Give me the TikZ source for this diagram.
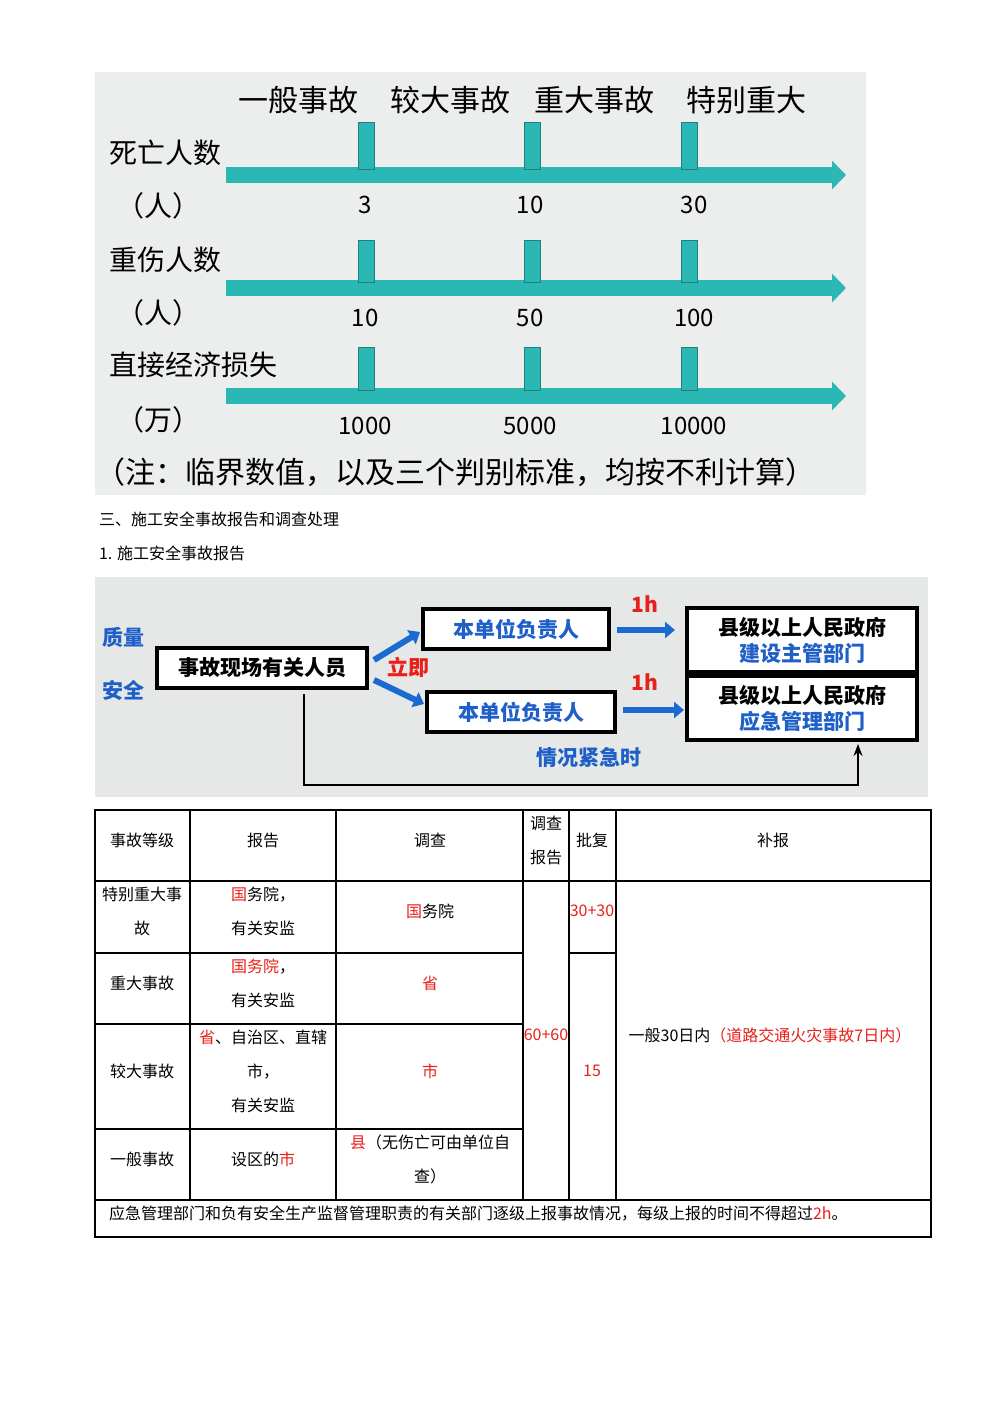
\documentclass[tikz,border=0pt]{standalone}
\usepackage{fontspec}
\setmainfont{Noto Sans CJK SC}
\usetikzlibrary{arrows.meta}
\definecolor{teal1}{HTML}{2BB8B4}
\definecolor{bg1}{HTML}{ECEEEE}
\definecolor{bg2}{HTML}{E6E8E8}
\definecolor{blu}{HTML}{1F5FC8}
\definecolor{arrb}{HTML}{1A6AD0}
\definecolor{rd}{HTML}{E8201A}
\begin{document}
\begin{tikzpicture}[x=0.5pt,y=-0.5pt,
 big/.style={font=\fontsize{15}{17}\selectfont},
 lab/.style={font=\fontsize{14}{17}\selectfont},
 num/.style={font=\fontsize{12}{14}\selectfont},
 tick/.style={fill=teal1,draw=teal1!70!black,line width=0.4pt},
 bar/.style={teal1,line width=8pt,-{Triangle[length=7pt,width=14pt]}},
 bx/.style={draw=black,line width=1.6pt,fill=white},
 bl/.style={text=blu,font=\fontsize{10.5}{13}\selectfont\bfseries},
 bk/.style={font=\fontsize{10.5}{13}\selectfont\bfseries},
 ba/.style={arrb,line width=3pt,-{Triangle[length=5pt,width=8pt]}},
 tt/.style={font=\fontsize{8}{17}\selectfont,align=center},
 R/.style={text=rd}]
\useasboundingbox (0,0) rectangle (1000,1414);
\fill[white] (0,0) rectangle (1000,1414);
% top panel
\fill[bg1] (95,72) rectangle (866,495);
\node[big] (h1) at (298,100) {一般事故};
\node[big] (h2) at (450,100) {较大事故};
\node[big] (h3) at (594,100) {重大事故};
\node[big] (h4) at (746,100) {特别重大};
\node[lab,anchor=west] (l1) at (102,153) {死亡人数};
\node[lab] (l1b) at (158,206) {（人）};
\node[lab,anchor=west] (l2) at (102,260) {重伤人数};
\node[lab] (l2b) at (158,313) {（人）};
\node[lab,anchor=west] (l3) at (102,365) {直接经济损失};
\node[lab] (l3b) at (158,420) {（万）};
\foreach \y/\t/\a/\b/\c [count=\i] in {175/122/3/10/30, 288/240/10/50/100, 396/347/1000/5000/10000}{
  \coordinate (s\i) at (226,\y); \coordinate (e\i) at (846,\y);
  \draw[bar] (s\i) -- (e\i);
  \foreach \x in {366,532,689}{\draw[tick] (\x-8,\t) rectangle (\x+8,\y-6);}
  \node[num] (na\i) at (365,\y+30) {\a};
  \node[num] (nb\i) at (530,\y+30) {\b};
  \node[num] (nc\i) at (694,\y+30) {\c};
}
\node[big] (note) at (455,472) {（注：临界数值，以及三个判别标准，均按不利计算）};
% section text
\node[tt,anchor=west] (t1) at (92,519) {三、施工安全事故报告和调查处理};
\node[tt,anchor=west] (t2) at (92,553) {1. 施工安全事故报告};
% second panel
\fill[bg2] (95,577) rectangle (928,797);
\node[bl] (q) at (123,637) {质量};
\node[bl] (a) at (123,690) {安全};
\node[bx,bk,minimum width=105pt,minimum height=20pt] (src) at (262,668) {事故现场有关人员};
\node[bx,bl,minimum width=93pt,minimum height=20pt] (u1) at (516,629) {本单位负责人};
\node[bx,bl,minimum width=94pt,minimum height=20pt] (u2) at (521,712) {本单位负责人};
\node[bx,bk,minimum width=115pt,minimum height=32pt,align=center] (g1) at (802,640) {县级以上人民政府\\\textcolor{blu}{建设主管部门}};
\node[bx,bk,minimum width=115pt,minimum height=32pt,align=center] (g2) at (802,708) {县级以上人民政府\\\textcolor{blu}{应急管理部门}};
\draw[ba] (374,660) -- (420,632);
\draw[ba] (374,680) -- (424,704);
\node[text=rd,font=\fontsize{10.5}{13}\selectfont\bfseries] (lj) at (408,667) {立即};
\draw[ba] (u1.east)++(6,1) -- (675,630);
\draw[ba] (u2.east)++(6,-2) -- (684,710);
\node[text=rd,font=\fontsize{10.5}{13}\selectfont\bfseries] (h1a) at (645,604) {1h};
\node[text=rd,font=\fontsize{10.5}{13}\selectfont\bfseries] (h1b) at (645,682) {1h};
\node[bl] (jj) at (589,757) {情况紧急时};
\coordinate (c1) at (304,694);
\coordinate (c2) at (858,744);
\draw[line width=0.8pt,-{Stealth[length=6pt]}] (c1) -- (304,785) -- (858,785) -- (c2);
% table
\draw[line width=1.2pt] (95,810) rectangle (931,1237);
\foreach \x in {190,336,523,569,616}{\draw[line width=1pt] (\x,810) -- (\x,1200);}
\draw[line width=1pt] (95,881) -- (931,881);
\draw[line width=1pt] (95,953) -- (523,953);
\draw[line width=1pt] (569,953) -- (616,953);
\draw[line width=1pt] (95,1024) -- (523,1024);
\draw[line width=1pt] (95,1129) -- (523,1129);
\draw[line width=1pt] (95,1200) -- (931,1200);
\node[tt] (c11) at (142,840) {事故等级};
\node[tt] (c12) at (263,840) {报告};
\node[tt] (c13) at (430,840) {调查};
\node[tt] (c14) at (546,840) {调查\\报告};
\node[tt] (c15) at (592,840) {批复};
\node[tt] (c16) at (773,840) {补报};
\node[tt] (r11) at (142,911) {特别重大事\\故};
\node[tt] (r12) at (263,911) {\textcolor{rd}{国}务院，\\有关安监};
\node[tt] (r13) at (430,911) {\textcolor{rd}{国}务院};
\node[tt] (r21) at (142,983) {重大事故};
\node[tt] (r22) at (263,983) {\textcolor{rd}{国务院}，\\有关安监};
\node[tt,R] (r23) at (430,983) {省};
\node[tt] (r31) at (142,1071) {较大事故};
\node[tt] (r32) at (263,1071) {\textcolor{rd}{省}、自治区、直辖\\市，\\有关安监};
\node[tt,R] (r33) at (430,1071) {市};
\node[tt] (r41) at (142,1159) {一般事故};
\node[tt] (r42) at (263,1159) {设区的\textcolor{rd}{市}};
\node[tt] (r43) at (430,1159) {\textcolor{rd}{县}（无伤亡可由单位自\\查）};
\node[tt,R] (cr) at (546,1035) {60+60};
\node[tt,R] (pf1) at (592,911) {30+30};
\node[tt,R] (pf2) at (592,1071) {15};
\node[tt] (bb) at (770,1035) {一般30日内\textcolor{rd}{（道路交通火灾事故7日内）}};
\node[tt,anchor=west] (last) at (102,1214) {应急管理部门和负有安全生产监督管理职责的有关部门逐级上报事故情况，每级上报的时间不得超过\textcolor{rd}{2h}。};
\end{tikzpicture}
\end{document}
